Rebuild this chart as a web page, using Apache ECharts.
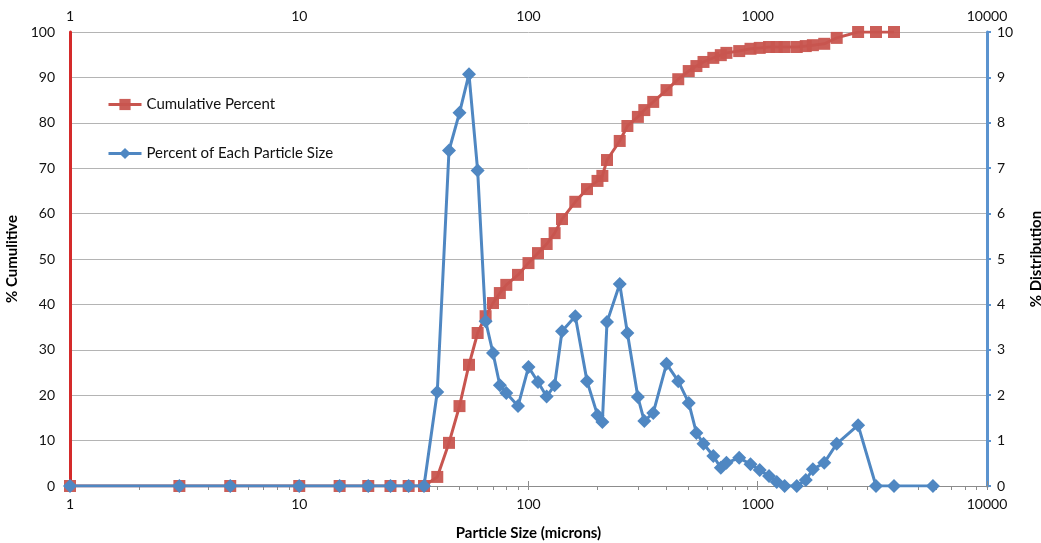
<!DOCTYPE html>
<html>
<head>
<meta charset="utf-8">
<script src="https://cdn.jsdelivr.net/npm/echarts@6/dist/echarts.min.js"></script>
<style>
html,body{margin:0;padding:0;background:#fff;}
#chart{width:1041px;height:543px;}
</style>
</head>
<body>
<div id="chart"></div>
<script>
// Particle sizes (microns)
const sizes = [1, 3, 5, 10, 15, 20, 25, 30, 35, 40, 45, 50, 55, 60, 65, 70, 75, 80, 90, 100,
  110, 120, 130, 140, 160, 180, 200, 210, 220, 250, 270, 300, 320, 350, 400, 450, 500, 540,
  580, 640, 690, 730, 830, 930, 1020, 1120, 1210, 1310, 1480, 1620, 1740, 1950, 2210, 2740,
  3280, 3930, 5810];
// Cumulative percent (left axis)
const cumulative = [0, 0, 0, 0, 0, 0, 0, 0, 0, 2.0, 9.5, 17.6, 26.7, 33.7, 37.4, 40.3, 42.5,
  44.3, 46.5, 49.1, 51.3, 53.3, 55.7, 58.8, 62.6, 65.4, 67.2, 68.3, 71.8, 76.0, 79.3, 81.3,
  82.8, 84.6, 87.2, 89.6, 91.4, 92.5, 93.4, 94.3, 94.9, 95.4, 95.8, 96.3, 96.5, 96.7, 96.7,
  96.7, 96.7, 96.9, 97.1, 97.4, 98.7, 100, 100, 100, null];
// Percent of each particle size (right axis)
const distribution = [0, 0, 0, 0, 0, 0, 0, 0, 0, 2.07, 7.39, 8.22, 9.07, 6.95, 3.63, 2.93,
  2.22, 2.05, 1.76, 2.62, 2.29, 1.97, 2.22, 3.41, 3.74, 2.31, 1.56, 1.41, 3.61, 4.45, 3.37,
  1.96, 1.43, 1.61, 2.69, 2.31, 1.83, 1.17, 0.93, 0.66, 0.40, 0.51, 0.62, 0.48, 0.35, 0.22,
  0.09, 0, 0, 0.13, 0.37, 0.51, 0.93, 1.34, 0, 0, 0];
const xMajorTicks = [1, 10, 100, 1000, 10000];
const xMinorTicks = [];
for (let d = 1; d < 10000; d *= 10) { for (let k = 1; k < 10; k++) xMinorTicks.push(k * d); }
xMinorTicks.push(10000);

const FONT = 'Lato';
const red = '#c8554f';
const blue = '#4f87c2';
const plainNum = v => String(Math.round(v));

const chart = echarts.init(document.getElementById('chart'), null, {renderer: 'canvas'});
const option = {
  animation: false,
  backgroundColor: '#fff',
  textStyle: {fontFamily: FONT},
  grid: {left: 70, right: 54, top: 32, bottom: 57, containLabel: false, outerBoundsMode: 'none'},
  legend: {
    orient: 'vertical', left: 102, top: 92, itemGap: 34,
    itemWidth: 33, itemHeight: 14,
    lineStyle: {width: 3},
    textStyle: {fontFamily: FONT, fontSize: 15, color: '#111'},
    data: ['Cumulative Percent', 'Percent of Each Particle Size']
  },
  xAxis: [
    {
      type: 'log', logBase: 10, min: 1, max: 10000, position: 'bottom',
      name: 'Particle Size (microns)', nameLocation: 'middle', nameGap: 40,
      nameTextStyle: {fontFamily: FONT, fontSize: 15, fontWeight: 'bold', color: '#000'},
      axisLine: {show: true, lineStyle: {color: '#8c8c8c', width: 1}},
      axisTick: {show: true, length: 4, inside: false, customValues: xMinorTicks, lineStyle: {color: '#8c8c8c'}},
      axisLabel: {customValues: xMajorTicks, formatter: plainNum, fontFamily: FONT, fontSize: 14, color: '#111', margin: 11},
      splitLine: {show: false}
    },
    {
      type: 'log', logBase: 10, min: 1, max: 10000, position: 'top',
      axisLine: {show: true, lineStyle: {color: '#8c8c8c', width: 1}},
      axisTick: {show: true, length: 5, customValues: xMajorTicks, lineStyle: {color: '#8c8c8c'}},
      axisLabel: {customValues: xMajorTicks, formatter: plainNum, fontFamily: FONT, fontSize: 14, color: '#111', margin: 9},
      splitLine: {show: false}
    }
  ],
  yAxis: [
    {
      type: 'value', min: 0, max: 100, interval: 10, position: 'left',
      name: '% Cumulitive', nameLocation: 'middle', nameGap: 48, nameRotate: 90,
      nameTextStyle: {fontFamily: FONT, fontSize: 15, fontWeight: 'bold', color: '#000'},
      axisLine: {show: true, onZero: false, lineStyle: {color: '#d42a2a', width: 3}},
      axisTick: {show: false},
      axisLabel: {fontFamily: FONT, fontSize: 14, color: '#111', margin: 15},
      splitLine: {show: true, lineStyle: {color: '#b4b4b4', width: 1}}
    },
    {
      type: 'value', min: 0, max: 10, interval: 1, position: 'right',
      name: '% Distribution', nameLocation: 'middle', nameGap: 42, nameRotate: 90,
      nameTextStyle: {fontFamily: FONT, fontSize: 15, fontWeight: 'bold', color: '#000'},
      axisLine: {show: true, onZero: false, lineStyle: {color: '#5b93cf', width: 3}},
      axisTick: {show: true, length: 4, lineStyle: {color: '#5b93cf', width: 2}},
      axisLabel: {fontFamily: FONT, fontSize: 14, color: '#111', margin: 10},
      splitLine: {show: false}
    }
  ],
  series: [
    {
      name: 'Cumulative Percent', type: 'line', xAxisIndex: 0, yAxisIndex: 0,
      data: sizes.map((s, i) => [s, cumulative[i]]).filter(p => p[1] !== null),
      symbol: 'rect', symbolSize: 12,
      lineStyle: {color: red, width: 3},
      itemStyle: {color: red, opacity: 0.95},
      z: 2
    },
    {
      name: 'Percent of Each Particle Size', type: 'line', xAxisIndex: 0, yAxisIndex: 1,
      data: sizes.map((s, i) => [s, distribution[i]]),
      symbol: 'diamond', symbolSize: 14,
      lineStyle: {color: blue, width: 3},
      itemStyle: {color: blue},
      z: 3
    }
  ]
};
chart.setOption(option);
</script>
</body>
</html>
